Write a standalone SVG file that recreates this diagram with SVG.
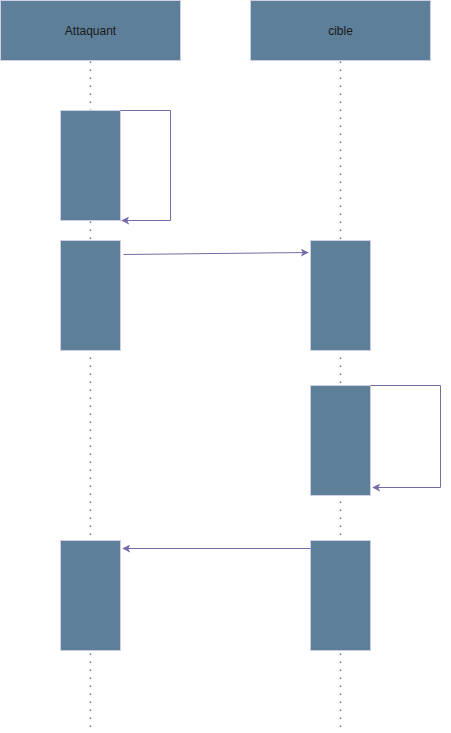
<svg xmlns="http://www.w3.org/2000/svg" width="451" height="733" viewBox="0 0 451 733">
<style>
.hdr{fill:#5d7f99;stroke:#d0cee2;stroke-width:1}
.act{fill:#5d7f99;stroke:#d0cee2;stroke-width:1}
.life{stroke:#736ca8;stroke-width:1.5;stroke-dasharray:1.5 6.5;fill:none}
.msg{stroke:#736ca8;stroke-width:1;fill:none}
.lbl{font-family:"Liberation Sans",Arial,sans-serif;font-size:12px;fill:#1a1a1a;text-anchor:middle;dominant-baseline:central}
</style>
<defs>
<marker id="arr" viewBox="0 0 10 10" refX="9" refY="5" markerWidth="8" markerHeight="8" markerUnits="userSpaceOnUse" orient="auto">
<path d="M0,0 L10,5 L0,10 L2.5,5 Z" fill="#736ca8"/>
</marker>
</defs>
<g id="lifelines">
<line class="life" x1="90.5" y1="61.5" x2="90.5" y2="731"/>
<line class="life" x1="340.5" y1="61.5" x2="340.5" y2="731"/>
</g>
<g id="attaquant"><rect class="hdr" x="0.5" y="0.5" width="180" height="60"/><text class="lbl" x="90.5" y="30.5">Attaquant</text></g>
<g id="cible"><rect class="hdr" x="250.5" y="0.5" width="180" height="60"/><text class="lbl" x="340.5" y="30.5">cible</text></g>
<g id="a1"><rect class="act" x="60.5" y="110.5" width="60" height="110"/></g>
<g id="a2"><rect class="act" x="60.5" y="240.5" width="60" height="110"/></g>
<g id="a3"><rect class="act" x="60.5" y="540.5" width="60" height="110"/></g>
<g id="c1"><rect class="act" x="310.5" y="240.5" width="60" height="110"/></g>
<g id="c2"><rect class="act" x="310.5" y="385.5" width="60" height="110"/></g>
<g id="c3"><rect class="act" x="310.5" y="540.5" width="60" height="110"/></g>
<g id="connectors">
<path class="msg" d="M120.5,110.5 H170.5 V220.5 H122" marker-end="url(#arr)"/>
<path class="msg" d="M123.5,254.5 L308,252.5" marker-end="url(#arr)"/>
<path class="msg" d="M370.5,385.5 H440.5 V487.5 H373" marker-end="url(#arr)"/>
<path class="msg" d="M310.5,548.5 H123" marker-end="url(#arr)"/>
</g>
</svg>
